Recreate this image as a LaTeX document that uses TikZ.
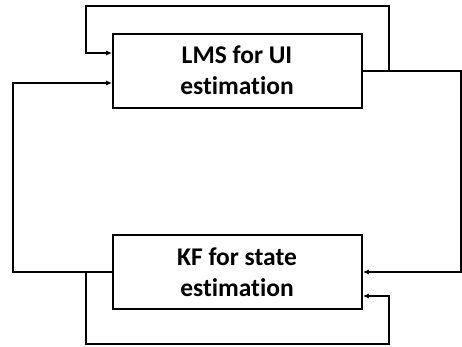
\documentclass[tikz,border=0pt]{standalone}
\usepackage{fontspec}
\setmainfont{Carlito}[RawFeature=-liga]
\usetikzlibrary{arrows.meta}
\tikzset{
  box/.style={draw, line width=1.7pt, minimum width=249pt, minimum height=74pt, inner sep=0pt},
  lbl/.style={font=\bfseries\fontsize{25.5}{30}\selectfont, inner sep=0pt, anchor=base},
  conn/.style={line width=1.5pt, -{Latex[length=6pt,width=5pt]}},
  wire/.style={line width=1.5pt}
}
\begin{document}
\begin{tikzpicture}[x=1pt,y=-1pt]
\useasboundingbox (0,0) rectangle (462,347);
\node[box] (lms) at (237.5,71) {};
\node[box] (kf) at (237.5,272) {};
\node[lbl] (lmsa) at (237,64) {LMS for UI};
\node[lbl] (lmsb) at (237,95) {estimation};
\node[lbl] (kfa) at (237,265) {KF for state};
\node[lbl] (kfb) at (237,296) {estimation};
\coordinate (o1) at (lms.east |- 0,71);
\coordinate (t1) at (389,71);
\coordinate (i1) at (lms.west |- 0,53);
\coordinate (i2) at (lms.west |- 0,83);
\coordinate (k1) at (kf.east |- 0,272);
\coordinate (k2) at (kf.east |- 0,296);
\coordinate (kw) at (kf.west |- 0,272);
\coordinate (b1) at (86,272);
\draw[conn] (o1) -- (461,71) -- (461,272) -- (k1);
\draw[conn] (t1) -- (389,6) -- (86,6) -- (86,53) -- (i1);
\draw[conn] (kw) -- (13,272) -- (13,83) -- (i2);
\draw[conn] (b1) -- (86,344) -- (389,344) -- (389,296) -- (k2);
\end{tikzpicture}
\end{document}
